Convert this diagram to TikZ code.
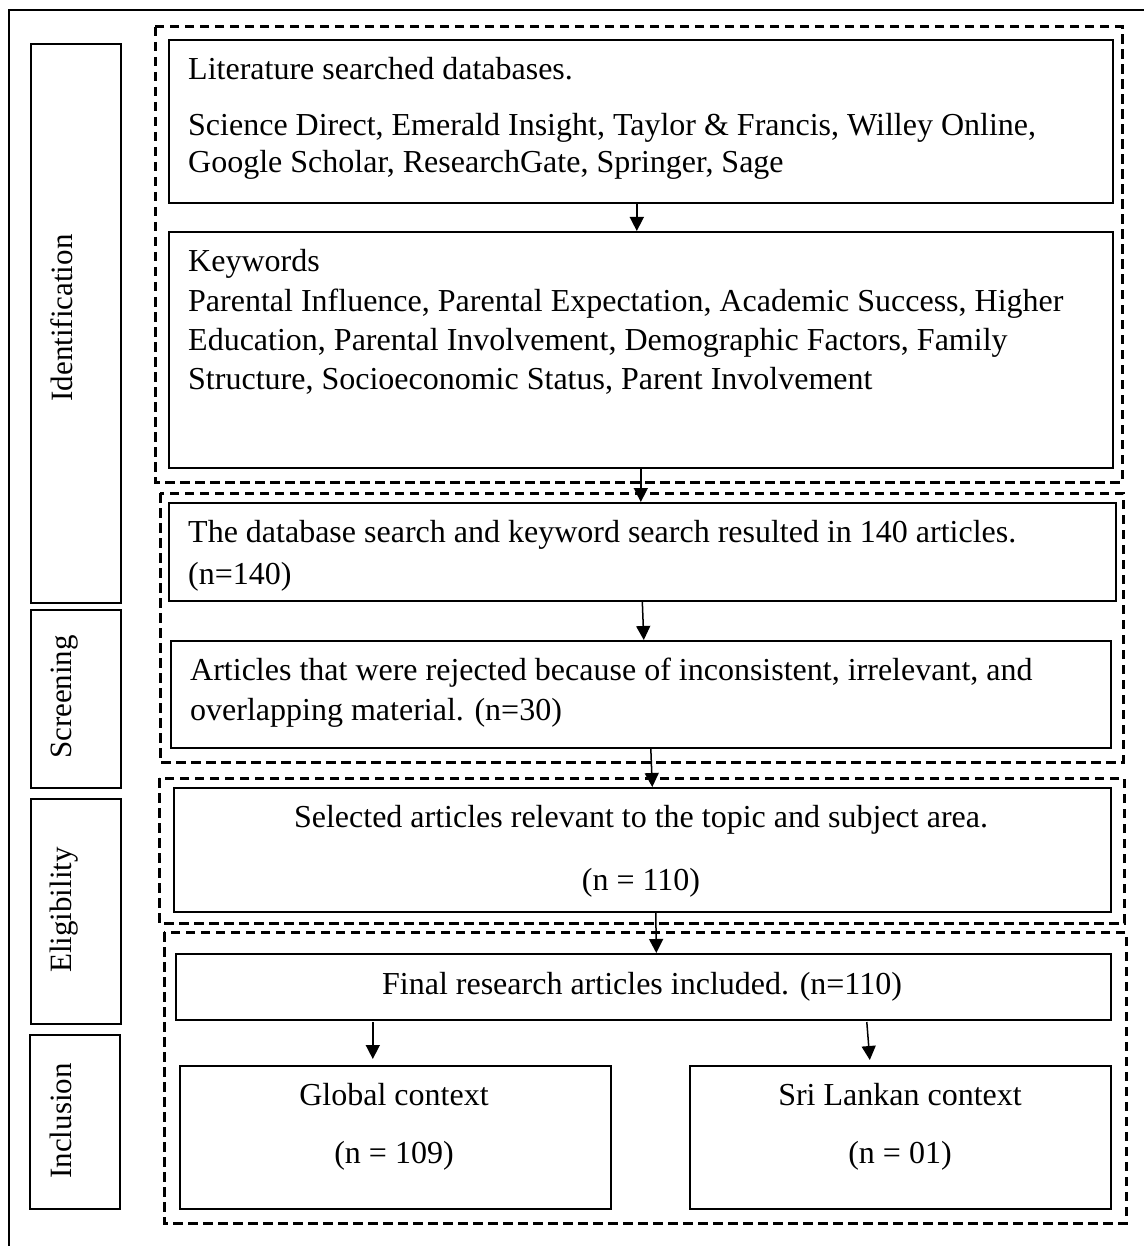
\documentclass[tikz,border=0pt]{standalone}
\usepackage{fontspec}
\setmainfont{Liberation Serif}
\usetikzlibrary{arrows.meta,calc}
\begin{document}
\begin{tikzpicture}[x=1pt,y=-1pt,
  box/.style={draw, line width=1.6pt, inner sep=0pt, anchor=north west},
  lbl/.style={draw, line width=1.6pt, inner sep=0pt, anchor=north west, minimum width=90pt},
  frame/.style={draw, line width=3pt, dash pattern=on 9.5pt off 5.5pt},
  txt/.style={inner sep=0pt, anchor=base west, font=\fontsize{32}{38}\selectfont},
  ctxt/.style={inner sep=0pt, anchor=base, font=\fontsize{32}{38}\selectfont},
  rtxt/.style={inner sep=0pt, anchor=base, rotate=90, font=\fontsize{31}{37}\selectfont},
  arr/.style={line width=1.5pt, -{Triangle[length=14pt,width=14pt]}}]
\useasboundingbox (0,0) rectangle (1144,1246);
\fill[white] (0,0) rectangle (1144,1246);
% outer frame
\draw[line width=2.8pt] (9,1246) -- (9,10) -- (1144,10);
% stage labels
\node[lbl, minimum height=559pt] (l1) at (30,43) {};
\node[lbl, minimum height=178pt] (l2) at (30,609) {};
\node[lbl, minimum height=225pt] (l3) at (30,798) {};
\node[lbl, minimum height=174pt] (l4) at (29,1034) {};
\node[rtxt] (t1) at (72,318) {Identification};
\node[rtxt] (t2) at (71,697) {Screening};
\node[rtxt] (t3) at (71,910) {Eligibility};
\node[rtxt] (t4) at (71,1121) {Inclusion};
% dashed frames
\draw[frame] (155,27) rectangle (1122,482);
\draw[frame] (160,493) rectangle (1123,762);
\draw[frame] (159,778) rectangle (1124,923);
\draw[frame] (164,932) rectangle (1126,1223);
% boxes
\node[box, minimum width=944pt, minimum height=163pt] (b1) at (168,39) {};
\node[box, minimum width=944pt, minimum height=236pt] (b2) at (168,231) {};
\node[box, minimum width=947pt, minimum height=98pt] (b3) at (168,502) {};
\node[box, minimum width=940pt, minimum height=107pt] (b4) at (170,640) {};
\node[box, minimum width=937pt, minimum height=124pt] (b5) at (173,787) {};
\node[box, minimum width=935pt, minimum height=66pt] (b6) at (175,953) {};
\node[box, minimum width=431pt, minimum height=143pt] (b7) at (179,1065) {};
\node[box, minimum width=421pt, minimum height=143pt] (b8) at (689,1065) {};
% texts
\node[txt] (x1a) at (188,80) {Literature searched databases.};
\node[txt] (x1b) at (188,136) {Science Direct, Emerald Insight, Taylor \& Francis, Willey Online,};
\node[txt] (x1c) at (188,173) {Google Scholar, ResearchGate, Springer, Sage};
\node[txt] (x2a) at (188,272) {Keywords};
\node[txt] (x2b) at (188,311) {Parental Influence, Parental Expectation, Academic Success, Higher};
\node[txt] (x2c) at (188,350) {Education, Parental Involvement, Demographic Factors, Family};
\node[txt] (x2d) at (188,389) {Structure, Socioeconomic Status, Parent Involvement};
\node[txt] (x3a) at (188,542) {The database search and keyword search resulted in 140 articles.};
\node[txt] (x3b) at (188,584) {(n=140)};
\node[txt] (x4a) at (190,680) {Articles that were rejected because of inconsistent, irrelevant, and};
\node[txt] (x4b) at (190,720) {overlapping material. (n=30)};
\node[ctxt] (x5a) at (641,827) {Selected articles relevant to the topic and subject area.};
\node[ctxt] (x5b) at (641,890) {(n = 110)};
\node[ctxt] (x6) at (642,994) {Final research articles included. (n=110)};
\node[ctxt] (x7a) at (394,1105) {Global context};
\node[ctxt] (x7b) at (394,1163) {(n = 109)};
\node[ctxt] (x8a) at (900,1105) {Sri Lankan context};
\node[ctxt] (x8b) at (900,1163) {(n = 01)};
% arrows
\draw[arr] ([xshift=-4pt]b1.south) -- ([xshift=-4pt]b2.north);
\draw[arr] (b2.south) -- ([xshift=-1.5pt]b3.north);
\draw[arr] (b3.south) -- ([xshift=3pt]b4.north);
\draw[arr] ([xshift=10pt]b4.south) -- ([xshift=10pt]b5.north);
\draw[arr] ([xshift=13.5pt]b5.south) -- ([xshift=13pt]b6.north);
\draw[arr] ($(b7.north)+(-22.5,-43)$) -- ($(b7.north)+(-22.5,-6)$);
\draw[arr] ($(b8.north)+(-33.5,-43)$) -- ($(b8.north)+(-30.5,-5)$);
\end{tikzpicture}
\end{document}
